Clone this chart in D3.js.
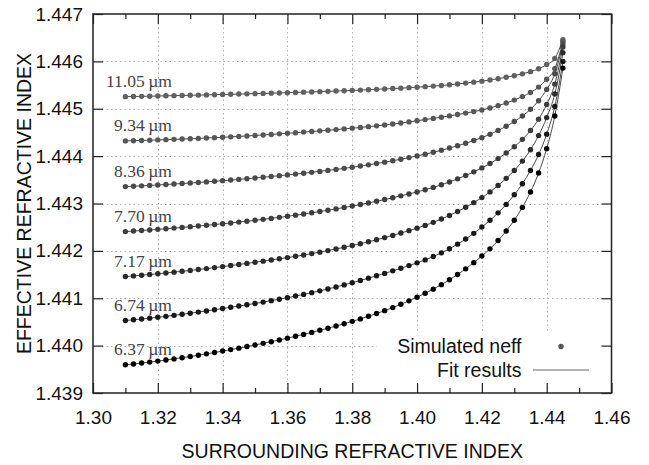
<!DOCTYPE html>
<html>
<head>
<meta charset="utf-8">
<script src="https://cdn.jsdelivr.net/npm/d3@7"></script>
<style>
  html, body { margin: 0; padding: 0; background: #fff; }
  svg { display: block; }
</style>
</head>
<body>
<svg id="chart" width="649" height="465"></svg>
<script>
// Surrounding refractive index sweep (x axis)
const sri = [1.3100,1.3125,1.3150,1.3175,1.3200,1.3225,1.3250,1.3275,1.3300,1.3325,
  1.3350,1.3375,1.3400,1.3425,1.3450,1.3475,1.3500,1.3525,1.3550,1.3575,
  1.3600,1.3625,1.3650,1.3675,1.3700,1.3725,1.3750,1.3775,1.3800,1.3825,
  1.3850,1.3875,1.3900,1.3925,1.3950,1.3975,1.4000,1.4025,1.4050,1.4075,
  1.4100,1.4125,1.4150,1.4175,1.4200,1.4225,1.4250,1.4275,1.4300,1.4325,
  1.4350,1.4375,1.4400,1.4425,1.4450];

// Simulated effective indices, one array per mode
const neff1105 = [1.445255,1.445258,1.445262,1.445265,1.445269,1.445273,1.445277,1.445280,1.445284,1.445288,
  1.445292,1.445297,1.445301,1.445305,1.445310,1.445314,1.445319,1.445324,1.445329,1.445334,
  1.445339,1.445344,1.445350,1.445355,1.445361,1.445367,1.445374,1.445380,1.445387,1.445394,
  1.445402,1.445410,1.445418,1.445426,1.445435,1.445445,1.445455,1.445466,1.445478,1.445491,
  1.445506,1.445523,1.445541,1.445561,1.445583,1.445607,1.445634,1.445664,1.445698,1.445737,
  1.445783,1.445843,1.445933,1.446063,1.446458];
const neff934 = [1.444321,1.444326,1.444331,1.444336,1.444342,1.444348,1.444354,1.444360,1.444367,1.444374,
  1.444382,1.444390,1.444398,1.444407,1.444416,1.444426,1.444436,1.444447,1.444458,1.444470,
  1.444482,1.444494,1.444507,1.444520,1.444533,1.444546,1.444560,1.444575,1.444590,1.444605,
  1.444622,1.444639,1.444658,1.444678,1.444699,1.444722,1.444747,1.444771,1.444796,1.444822,
  1.444849,1.444878,1.444908,1.444940,1.444973,1.445016,1.445065,1.445120,1.445183,1.445256,
  1.445342,1.445457,1.445622,1.445847,1.446417];
const neff836 = [1.443357,1.443365,1.443373,1.443382,1.443391,1.443401,1.443411,1.443422,1.443433,1.443444,
  1.443456,1.443469,1.443482,1.443495,1.443509,1.443524,1.443539,1.443554,1.443570,1.443587,
  1.443604,1.443621,1.443639,1.443658,1.443678,1.443699,1.443720,1.443742,1.443766,1.443790,
  1.443816,1.443844,1.443873,1.443903,1.443935,1.443969,1.444004,1.444041,1.444081,1.444124,
  1.444170,1.444219,1.444272,1.444329,1.444390,1.444460,1.444540,1.444630,1.444730,1.444848,
  1.444988,1.445168,1.445408,1.445738,1.446369];
const neff770 = [1.442407,1.442418,1.442430,1.442442,1.442454,1.442467,1.442481,1.442495,1.442509,1.442524,
  1.442540,1.442556,1.442572,1.442589,1.442607,1.442625,1.442645,1.442665,1.442686,1.442708,
  1.442730,1.442754,1.442778,1.442804,1.442830,1.442858,1.442886,1.442916,1.442946,1.442978,
  1.443012,1.443047,1.443083,1.443121,1.443161,1.443202,1.443244,1.443290,1.443340,1.443395,
  1.443455,1.443520,1.443591,1.443668,1.443751,1.443843,1.443948,1.444066,1.444198,1.444354,
  1.444540,1.444780,1.445090,1.445520,1.446303];
const neff717 = [1.441458,1.441472,1.441487,1.441502,1.441517,1.441534,1.441551,1.441569,1.441587,1.441606,
  1.441626,1.441647,1.441668,1.441690,1.441713,1.441736,1.441759,1.441783,1.441808,1.441833,
  1.441858,1.441885,1.441913,1.441942,1.441973,1.442006,1.442040,1.442075,1.442112,1.442151,
  1.442192,1.442235,1.442280,1.442327,1.442376,1.442427,1.442480,1.442538,1.442602,1.442672,
  1.442748,1.442831,1.442921,1.443019,1.443125,1.443245,1.443381,1.443531,1.443697,1.443895,
  1.444133,1.444433,1.444813,1.445313,1.446184];
const neff674 = [1.440530,1.440546,1.440562,1.440580,1.440598,1.440618,1.440639,1.440661,1.440684,1.440708,
  1.440732,1.440757,1.440783,1.440809,1.440835,1.440862,1.440890,1.440919,1.440949,1.440980,
  1.441012,1.441046,1.441081,1.441118,1.441156,1.441196,1.441238,1.441282,1.441328,1.441375,
  1.441424,1.441474,1.441525,1.441578,1.441633,1.441689,1.441747,1.441810,1.441880,1.441958,
  1.442045,1.442142,1.442250,1.442370,1.442503,1.442645,1.442803,1.442981,1.443184,1.443418,
  1.443696,1.444034,1.444464,1.445049,1.445999];
const neff637 = [1.439595,1.439613,1.439632,1.439652,1.439673,1.439696,1.439720,1.439745,1.439771,1.439798,
  1.439826,1.439855,1.439885,1.439916,1.439947,1.439980,1.440013,1.440048,1.440083,1.440120,
  1.440158,1.440197,1.440237,1.440279,1.440323,1.440368,1.440414,1.440462,1.440512,1.440564,
  1.440619,1.440677,1.440738,1.440803,1.440872,1.440945,1.441022,1.441104,1.441192,1.441287,
  1.441390,1.441501,1.441621,1.441751,1.441891,1.442043,1.442218,1.442418,1.442648,1.442918,
  1.443243,1.443643,1.444158,1.444848,1.445858];

// Curve labels (fibre parameter in micrometres)
const seriesLabels = ["11.05", "9.34", "8.36", "7.70", "7.17", "6.74", "6.37"];
const seriesValues = [neff1105, neff934, neff836, neff770, neff717, neff674, neff637];

// Axis ticks
const xTicks = [1.30, 1.32, 1.34, 1.36, 1.38, 1.40, 1.42, 1.44, 1.46];
const xMinorTicks = [1.31, 1.33, 1.35, 1.37, 1.39, 1.41, 1.43, 1.45];
const yTicks = [1.439, 1.440, 1.441, 1.442, 1.443, 1.444, 1.445, 1.446, 1.447];

const seriesColors = ["#606060", "#575757", "#4b4b4b", "#3d3d3d", "#2b2b2b", "#181818", "#000000"];

const svg = d3.select("#chart");
const plot = { left: 93, right: 611.5, top: 14, bottom: 393 };

const x = d3.scaleLinear().domain([1.30, 1.46]).range([plot.left, plot.right]);
const y = d3.scaleLinear().domain([1.439, 1.447]).range([plot.bottom, plot.top]);

const sans = "'Liberation Sans', Arial, sans-serif";
const serif = "'Liberation Serif', 'Times New Roman', serif";

// Dotted grid
const grid = svg.append("g").attr("stroke", "#b3b3b3").attr("stroke-width", 1)
  .attr("stroke-dasharray", "1.5,3");
grid.selectAll("line.gx").data(xTicks.slice(1, -1)).join("line")
  .attr("class", "gx")
  .attr("x1", d => Math.round(x(d)) + 0.5).attr("x2", d => Math.round(x(d)) + 0.5)
  .attr("y1", plot.top).attr("y2", plot.bottom);
grid.selectAll("line.gy").data(yTicks.slice(1, -1)).join("line")
  .attr("class", "gy")
  .attr("y1", d => Math.round(y(d)) + 0.5).attr("y2", d => Math.round(y(d)) + 0.5)
  .attr("x1", plot.left).attr("x2", plot.right);

// Legend box (opaque, hides grid underneath)
svg.append("rect").attr("x", 377).attr("y", 332).attr("width", 233).attr("height", 54)
  .attr("fill", "#fff");

// Fit curves
const line = d3.line().x(d => x(d[0])).y(d => y(d[1])).curve(d3.curveMonotoneX);
seriesValues.forEach((vals, k) => {
  const pts = sri.map((s, i) => [s, vals[i]]);
  svg.append("path").datum(pts)
    .attr("d", line).attr("fill", "none")
    .attr("stroke", "#4a4a4a").attr("stroke-width", 1);
});

// Simulated points
seriesValues.forEach((vals, k) => {
  svg.append("g").selectAll("circle").data(sri.map((s, i) => [s, vals[i]])).join("circle")
    .attr("cx", d => x(d[0])).attr("cy", d => y(d[1])).attr("r", 2.7)
    .attr("fill", seriesColors[k]);
});

// Curve labels
seriesValues.forEach((vals, k) => {
  svg.append("text")
    .attr("x", x(sri[0]) + 46.5).attr("y", y(vals[0]) - 10)
    .attr("text-anchor", "end")
    .attr("font-family", serif).attr("font-size", 17.5)
    .attr("fill", "#444")
    .text(seriesLabels[k] + "\u2009\u00B5m");
});

// Axes: ticks point inward, mirrored on top and right
const fmtX = d3.format(".2f"), fmtY = d3.format(".3f");
function styleAxis(g) {
  g.select(".domain").remove();
  g.selectAll(".tick line").attr("stroke", "#222").attr("stroke-width", 1.2);
  g.selectAll(".tick text").attr("fill", "#111").attr("font-family", sans).attr("font-size", 19);
}
svg.append("g").attr("transform", `translate(0,${plot.bottom})`)
  .call(d3.axisBottom(x).tickValues(xTicks).tickFormat(fmtX).tickSize(-10).tickPadding(17.5))
  .call(styleAxis);
svg.append("g").attr("transform", `translate(0,${plot.bottom})`)
  .call(d3.axisBottom(x).tickValues(xMinorTicks).tickFormat("").tickSize(-5))
  .call(styleAxis);
svg.append("g").attr("transform", `translate(0,${plot.top})`)
  .call(d3.axisTop(x).tickValues(xTicks).tickFormat("").tickSize(-10))
  .call(styleAxis);
svg.append("g").attr("transform", `translate(0,${plot.top})`)
  .call(d3.axisTop(x).tickValues(xMinorTicks).tickFormat("").tickSize(-5))
  .call(styleAxis);
svg.append("g").attr("transform", `translate(${plot.left},0)`)
  .call(d3.axisLeft(y).tickValues(yTicks).tickFormat(fmtY).tickSize(-10).tickPadding(10))
  .call(styleAxis);
svg.append("g").attr("transform", `translate(${plot.right},0)`)
  .call(d3.axisRight(y).tickValues(yTicks).tickFormat("").tickSize(-10))
  .call(styleAxis);

// Frame
svg.append("rect").attr("x", plot.left).attr("y", plot.top)
  .attr("width", plot.right - plot.left).attr("height", plot.bottom - plot.top)
  .attr("fill", "none").attr("stroke", "#222").attr("stroke-width", 1.5);

// Axis titles
svg.append("text").attr("x", (plot.left + plot.right) / 2).attr("y", 458)
  .attr("text-anchor", "middle").attr("font-family", sans).attr("font-size", 19.5)
  .attr("fill", "#111").text("SURROUNDING REFRACTIVE INDEX");
svg.append("text")
  .attr("transform", `translate(31,${(plot.top + plot.bottom) / 2}) rotate(-90)`)
  .attr("text-anchor", "middle").attr("font-family", sans).attr("font-size", 19.5)
  .attr("fill", "#111").text("EFFECTIVE REFRACTIVE INDEX");

// Legend
const legend = svg.append("g").attr("font-family", sans).attr("font-size", 19.5).attr("fill", "#111");
legend.append("text").attr("x", 521.5).attr("y", 353).attr("text-anchor", "end").text("Simulated neff");
legend.append("circle").attr("cx", 561).attr("cy", 346.5).attr("r", 2.7).attr("fill", "#555");
legend.append("text").attr("x", 521.5).attr("y", 376.5).attr("text-anchor", "end").text("Fit results");
legend.append("line").attr("x1", 533).attr("x2", 589).attr("y1", 370).attr("y2", 370)
  .attr("stroke", "#666").attr("stroke-width", 1);
</script>
</body>
</html>
